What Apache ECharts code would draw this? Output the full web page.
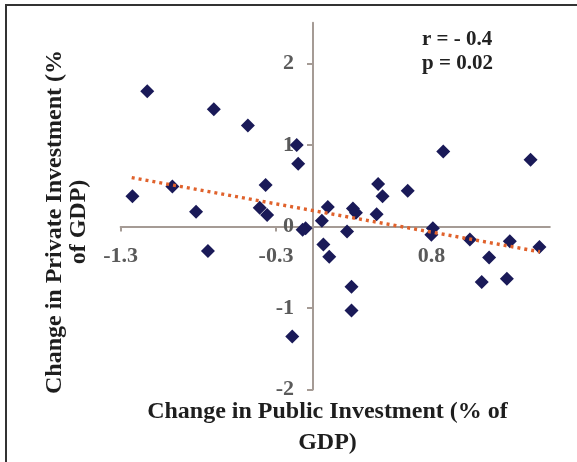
<!DOCTYPE html>
<html>
<head>
<meta charset="utf-8">
<script src="https://cdn.jsdelivr.net/npm/echarts@6/dist/echarts.min.js"></script>
<style>
  html, body { margin: 0; padding: 0; background: #fff; }
  #chart { width: 577px; height: 462px; }
</style>
</head>
<body>
<div id="chart"></div>
<script>
// change in public investment (x) and private investment (y), % of GDP
var xValues = [-1.12, -0.67, -0.44, -0.11, -0.10, -0.32, -0.95, -1.22, -0.79, -0.36,
               -0.31, -0.05, -0.07, 0.06, 0.10, -0.71, 0.07, 0.11, 0.88, 1.47,
               0.44, 0.64, 0.47, 0.27, 0.29, 0.43, 0.23, 0.81, 0.80, 1.06,
               1.33, 1.53, 1.19, 1.14, 1.31, 0.26, 0.26, -0.14];
var yValues = [1.66, 1.44, 1.24, 1.00, 0.77, 0.51, 0.49, 0.37, 0.18, 0.23,
               0.14, -0.02, -0.04, 0.07, 0.24, -0.30, -0.22, -0.37, 0.92, 0.82,
               0.52, 0.44, 0.37, 0.22, 0.17, 0.15, -0.06, -0.02, -0.10, -0.16,
               -0.18, -0.25, -0.38, -0.68, -0.64, -0.74, -1.03, -1.35];

// dotted trend line ends
var trendX = [-1.225, 1.534];
var trendY = [0.60, -0.31];

var xTicks = [-1.3, -0.25, 0.8];
var yTicks = [-2, -1, 0, 1, 2];

var statsText = ['r = - 0.4', 'p = 0.02'];

var serif = "'Liberation Serif', 'Times New Roman', serif";

var points = [];
for (var i = 0; i < xValues.length; i++) {
  points.push([xValues[i], yValues[i]]);
}
var trend = [];
for (var j = 0; j < trendX.length; j++) {
  trend.push([trendX[j], trendY[j]]);
}

var chart = echarts.init(document.getElementById('chart'));

var axisLineStyle = { color: '#a59b95', width: 2 };
var gridBox = { left: 120.6, right: 27.2, top: 22.75, bottom: 72.5 };

var option = {
  animation: false,
  backgroundColor: '#fff',
  grid: gridBox,
  xAxis: {
    type: 'value',
    min: -1.3,
    max: 1.6,
    axisLine: { onZero: false, lineStyle: axisLineStyle },
    axisTick: { show: true, customValues: xTicks, length: 5, lineStyle: axisLineStyle },
    axisLabel: {
      customValues: xTicks,
      margin: 19,
      fontFamily: serif,
      fontWeight: 'bold',
      fontSize: 22,
      color: '#5a5a5a',
      formatter: function (v) { return v.toFixed(1); }
    },
    splitLine: { show: false }
  },
  yAxis: {
    type: 'value',
    min: -2,
    max: 2.5,
    axisLine: { onZero: false, lineStyle: axisLineStyle },
    axisTick: { show: true, customValues: yTicks, length: 6, lineStyle: axisLineStyle },
    axisLabel: {
      customValues: yTicks,
      margin: 19,
      fontFamily: serif,
      fontWeight: 'bold',
      fontSize: 22,
      color: '#5a5a5a'
    },
    splitLine: { show: false }
  },
  series: [
    {
      type: 'scatter',
      data: points,
      symbol: 'diamond',
      symbolSize: 14,
      itemStyle: { color: '#1a1a58', opacity: 1 },
      z: 2
    },
    {
      type: 'line',
      data: trend,
      showSymbol: false,
      lineStyle: { color: '#e0622c', width: 3.5, type: [3, 4] },
      z: 3
    }
  ],
  graphic: [
    {
      type: 'polyline',
      shape: { points: [[6, 470], [6, 5], [580, 5]] },
      style: { stroke: '#333', lineWidth: 2, fill: null }
    },
    {
      type: 'text',
      x: 327.5,
      y: 427,
      style: {
        text: 'Change in Public Investment (% of\nGDP)',
        font: 'bold 24px ' + serif,
        fill: '#1e1e1e',
        align: 'center',
        verticalAlign: 'middle',
        lineHeight: 31
      }
    },
    {
      type: 'text',
      x: 66.5,
      y: 222,
      rotation: Math.PI / 2,
      style: {
        text: 'Change in Private Investment (%\nof GDP)',
        font: 'bold 24px ' + serif,
        fill: '#1e1e1e',
        align: 'center',
        verticalAlign: 'middle',
        lineHeight: 24
      }
    },
    {
      type: 'text',
      x: 422,
      y: 52,
      style: {
        text: statsText.join('\n'),
        font: 'bold 21px ' + serif,
        fill: '#222',
        align: 'left',
        verticalAlign: 'middle',
        lineHeight: 24
      }
    }
  ]
};

chart.setOption(option);

// move both axes (line, ticks and labels) onto the zero cross
var zero = chart.convertToPixel({ gridIndex: 0 }, [0, 0]);
var gridBottomY = 462 - gridBox.bottom;
chart.setOption({
  xAxis: { offset: -(gridBottomY - zero[1]) },
  yAxis: { offset: -(zero[0] - gridBox.left) }
});
</script>
</body>
</html>
